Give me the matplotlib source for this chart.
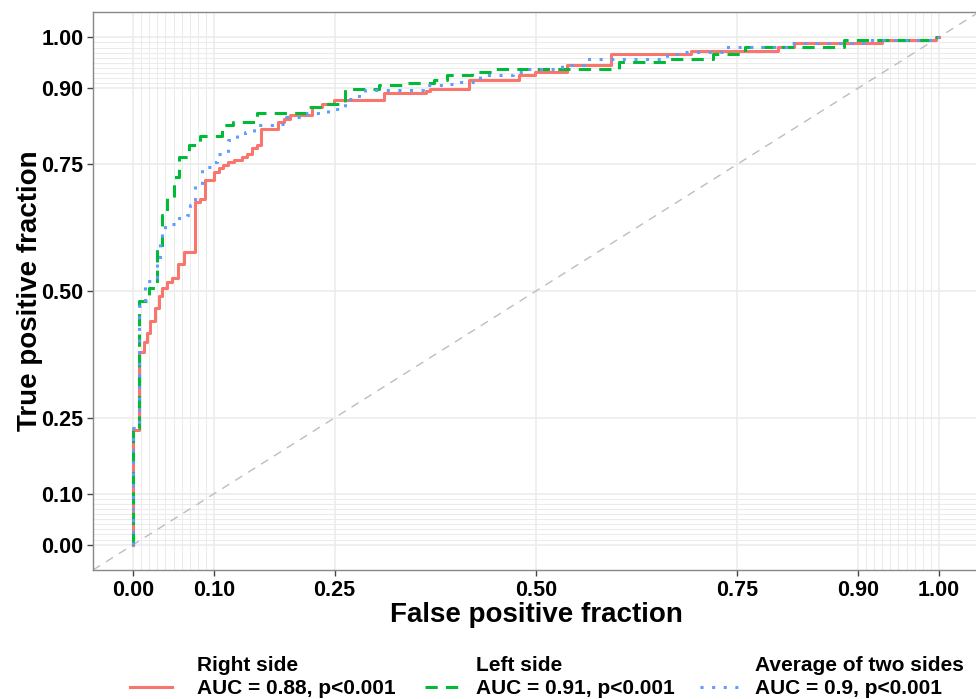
import matplotlib
matplotlib.use('Agg')
import matplotlib.pyplot as plt
from matplotlib.lines import Line2D
import numpy as np

plt.rcParams['font.family'] = ['Liberation Sans', 'DejaVu Sans']
plt.rcParams['font.weight'] = 'bold'

# ROC staircases: fpf where each vertical step sits, tpf at its top
red_fpf = [0, 0, 0.0075, 0.013, 0.017, 0.021, 0.027, 0.0325, 0.036, 0.042, 0.048, 0.056,
           0.0625, 0.077, 0.083, 0.089, 0.0998, 0.106, 0.112, 0.118, 0.125, 0.135, 0.141,
           0.1475, 0.1536, 0.158, 0.18, 0.187, 0.195, 0.222, 0.234, 0.249, 0.311, 0.363,
           0.369, 0.4166, 0.4787, 0.499, 0.539, 0.5925, 0.692, 0.80, 0.82, 0.93, 0.996, 1.0]
red_tpf = [0, 0.226, 0.38, 0.40, 0.417, 0.44, 0.466, 0.49, 0.505, 0.518, 0.525, 0.554,
           0.577, 0.676, 0.682, 0.7185, 0.735, 0.7415, 0.748, 0.7545, 0.758, 0.764, 0.771,
           0.781, 0.787, 0.820, 0.833, 0.840, 0.846, 0.863, 0.869, 0.876, 0.890, 0.895,
           0.899, 0.915, 0.925, 0.932, 0.945, 0.968, 0.973, 0.981, 0.988, 0.994, 1.0, 1.0]

green_fpf = [0, 0, 0.0075, 0.019, 0.0294, 0.0356, 0.0418, 0.050, 0.0563, 0.0687, 0.0832,
             0.110, 0.124, 0.153, 0.214, 0.232, 0.263, 0.305, 0.335, 0.373, 0.39, 0.42,
             0.445, 0.603, 0.662, 0.72, 0.760, 0.883, 0.99, 1.0]
green_tpf = [0, 0.23, 0.48, 0.505, 0.587, 0.65, 0.683, 0.725, 0.764, 0.787, 0.806,
             0.827, 0.833, 0.850, 0.863, 0.869, 0.899, 0.906, 0.911, 0.915, 0.925, 0.932,
             0.938, 0.951, 0.958, 0.968, 0.981, 0.994, 1.0, 1.0]

blue_fpf = [0, 0, 0.0075, 0.015, 0.029, 0.033, 0.0356, 0.039, 0.054, 0.0666, 0.0708, 0.077,
            0.0853, 0.098, 0.104, 0.118, 0.129, 0.139, 0.150, 0.18, 0.189, 0.216, 0.242,
            0.257, 0.263, 0.276, 0.288, 0.36, 0.391, 0.404, 0.431, 0.472, 0.489, 0.532,
            0.560, 0.663, 0.675, 0.735, 0.814, 0.912, 0.996, 1.0]
blue_tpf = [0, 0.23, 0.47, 0.52, 0.554, 0.60, 0.613, 0.633, 0.643, 0.650, 0.669, 0.708,
            0.745, 0.755, 0.771, 0.797, 0.807, 0.814, 0.827, 0.830, 0.843, 0.850, 0.859,
            0.863, 0.879, 0.884, 0.896, 0.906, 0.909, 0.912, 0.925, 0.932, 0.938, 0.945,
            0.958, 0.968, 0.971, 0.981, 0.988, 0.994, 1.0, 1.0]

groups = ['Right side', 'Left side', 'Average of two sides']
auc_labels = ['AUC = 0.88, p<0.001', 'AUC = 0.91, p<0.001', 'AUC = 0.9, p<0.001']
colors = ['#F8766D', '#00BA38', '#619CFF']

major_breaks = [0, 0.1, 0.25, 0.5, 0.75, 0.9, 1.0]
minor_breaks = list(np.arange(0, 0.1, 0.01)) + list(np.arange(0.91, 1.0, 0.01))

fig = plt.figure(figsize=(9.76, 6.99), dpi=100)
W, H = 976, 699
ax = fig.add_axes([93 / W, 1 - 570 / H, 886 / W, 558 / H])
ax.set_xlim(-0.05, 1.05)
ax.set_ylim(-0.05, 1.05)

ax.set_xticks(major_breaks)
ax.set_yticks(major_breaks)
ax.set_xticks(minor_breaks, minor=True)
ax.set_yticks(minor_breaks, minor=True)
ax.set_xticklabels(['%.2f' % b for b in major_breaks])
ax.set_yticklabels(['%.2f' % b for b in major_breaks])
ax.grid(True, which='major', color='#EBEBEB', linewidth=1.1)
ax.grid(True, which='minor', color='#EBEBEB', linewidth=0.7)
ax.set_axisbelow(True)
ax.tick_params(which='minor', length=0)
ax.tick_params(which='major', length=4, width=1, color='#444444',
               labelsize=15.5, labelcolor='black', pad=3)
for s in ax.spines.values():
    s.set_color('#888888')
    s.set_linewidth(1)

ax.axline((0, 0), slope=1, color='#BDBDBD', linewidth=1, dashes=(6, 5), zorder=1)

lw = 2.2
ax.plot(red_fpf, red_tpf, drawstyle='steps-post', color=colors[0], linewidth=lw, zorder=3)
ax.plot(green_fpf, green_tpf, drawstyle='steps-post', color=colors[1], linewidth=lw,
        dashes=(4, 2.7), zorder=4)
ax.plot(blue_fpf, blue_tpf, drawstyle='steps-post', color=colors[2], linewidth=lw,
        dashes=(1, 2.8), zorder=5)

ax.set_xlabel('False positive fraction', fontsize=20, fontweight='bold', labelpad=1)
ax.set_ylabel('True positive fraction', fontsize=20, fontweight='bold', labelpad=-1)

# legend at the bottom, drawn by hand so the key sits on the AUC line
key_x = [(130, 172), (425, 466), (700, 740)]
text_x = [197, 476, 755]
styles = [dict(), dict(dashes=(4, 2.7)), dict(dashes=(1, 2.8))]
for i in range(3):
    x0, x1 = key_x[i]
    fig.add_artist(Line2D([x0 / W, x1 / W], [1 - 687 / H, 1 - 687 / H],
                          transform=fig.transFigure, color=colors[i], linewidth=lw,
                          **styles[i]))
    fig.text(text_x[i] / W, 1 - 671 / H, groups[i], fontsize=15, fontweight='bold',
             va='baseline', ha='left')
    fig.text(text_x[i] / W, 1 - 694 / H, auc_labels[i], fontsize=15, fontweight='bold',
             va='baseline', ha='left')

fig.savefig('out.png', dpi=100)
